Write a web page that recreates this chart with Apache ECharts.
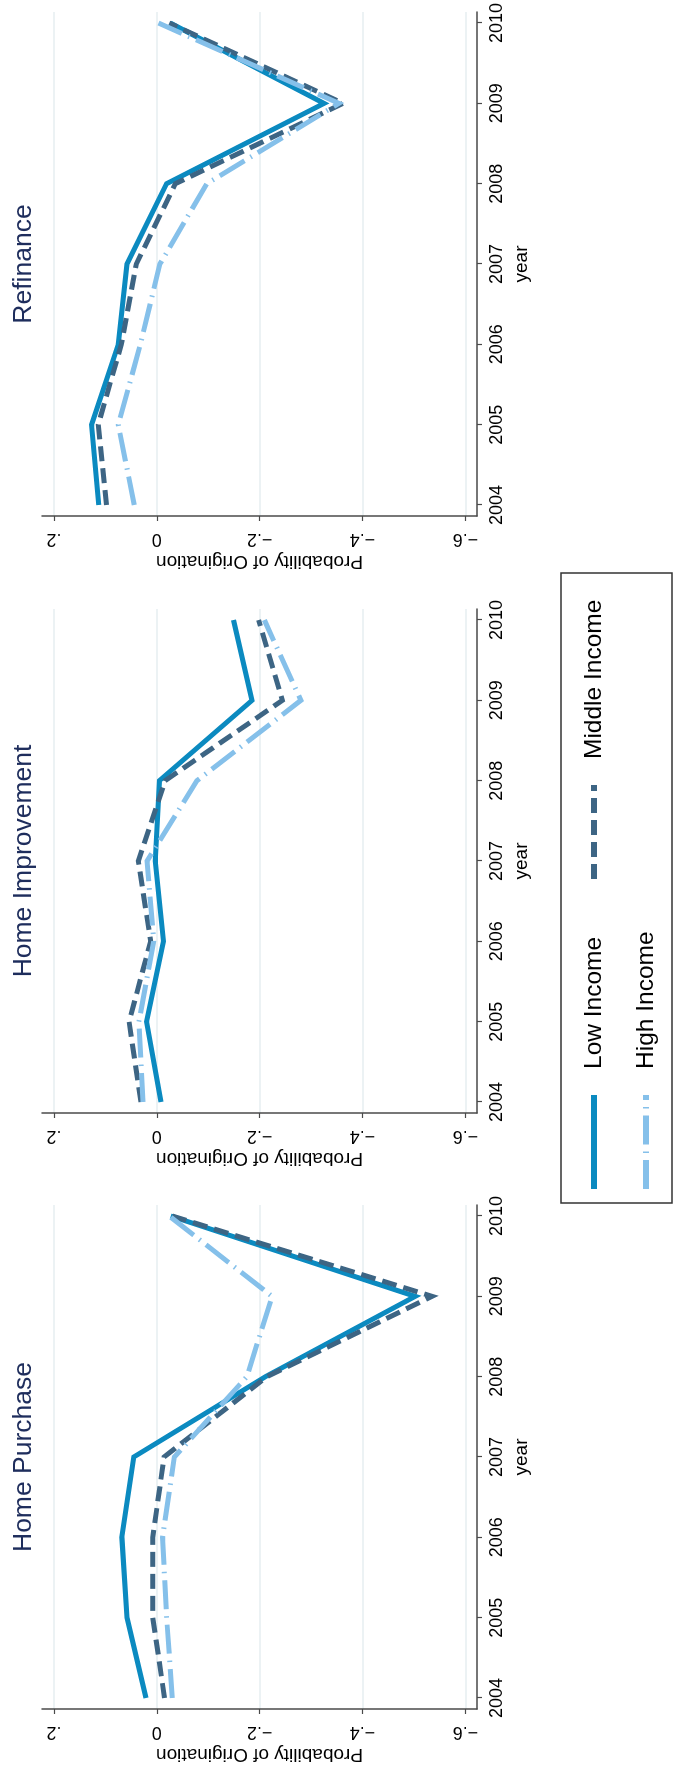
<!DOCTYPE html>
<html>
<head>
<meta charset="utf-8">
<title>Probability of Origination by income</title>
<script src="https://cdn.jsdelivr.net/npm/echarts@6/dist/echarts.min.js"></script>
<style>
  html, body { margin: 0; padding: 0; background: #fff; }
  body { width: 674px; height: 1771px; overflow: hidden; position: relative; }
  /* the source figure is a landscape graph turned a quarter turn counter-clockwise */
  #chart {
    position: absolute; left: 0; top: 1771px;
    width: 1771px; height: 674px;
    transform-origin: 0 0; transform: rotate(-90deg);
  }
</style>
</head>
<body>
<div id="chart"></div>
<script>
// ---- data ----
const years = [2004, 2005, 2006, 2007, 2008, 2009, 2010]
const probTicks = [-0.6, -0.4, -0.2, 0, 0.2]
const panelTitles = ['Home Purchase', 'Home Improvement', 'Refinance']
const incomeNames = ['Low Income', 'Middle Income', 'High Income']

const purchaseLow = [0.021, 0.058, 0.068, 0.045, -0.211, -0.502, -0.027]
const purchaseMiddle = [-0.015, 0.008, 0.008, -0.014, -0.214, -0.535, -0.030]
const purchaseHigh = [-0.030, -0.019, -0.011, -0.034, -0.175, -0.224, -0.024]

const improvementLow = [-0.008, 0.020, -0.013, 0.003, -0.005, -0.185, -0.149]
const improvementMiddle = [0.031, 0.054, 0.012, 0.036, -0.016, -0.244, -0.198]
const improvementHigh = [0.027, 0.035, 0.006, 0.019, -0.078, -0.280, -0.209]

const refinanceLow = [0.113, 0.127, 0.075, 0.058, -0.019, -0.325, -0.026]
const refinanceMiddle = [0.098, 0.114, 0.069, 0.040, -0.036, -0.362, -0.024]
const refinanceHigh = [0.044, 0.075, 0.032, -0.006, -0.097, -0.354, -0.003]

const panels = [
  [purchaseLow, purchaseMiddle, purchaseHigh],
  [improvementLow, improvementMiddle, improvementHigh],
  [refinanceLow, refinanceMiddle, refinanceHigh],
]

// ---- styling ----
const FONT = "'Liberation Sans', Arial, Helvetica, sans-serif"
const incomeColors = ['#0b8ac0', '#3d6584', '#85c0ea']
const incomeDash = ['solid', [15, 7], [29, 7, 1.5, 7]]
const panelLeft = [62, 658, 1255]
const panelWidth = 504
const plotTop = 42
const plotHeight = 435

function probLabel(v) {
  if (Math.abs(v) < 1e-9) return '0'
  const s = Math.abs(v).toFixed(1).replace(/^0/, '')
  return (v < 0 ? '\u2212' : '') + s
}

const grids = []
const xAxes = []
const yAxes = []
const titles = []
const series = []

panels.forEach(function (panel, i) {
  grids.push({ left: panelLeft[i], top: plotTop, width: panelWidth, height: plotHeight })

  xAxes.push({
    type: 'value', gridIndex: i,
    min: 2003.863, max: 2010.137,
    name: 'year', nameLocation: 'middle', nameGap: 35,
    nameTextStyle: { fontFamily: FONT, fontSize: 19, color: '#000' },
    // keep the year axis on the plot edge, not on y = 0
    axisLine: { show: true, onZero: false, lineStyle: { color: '#4a4a4a', width: 1.5 } },
    axisTick: { show: true, length: 5, customValues: years, lineStyle: { color: '#4a4a4a', width: 1.2 } },
    axisLabel: { customValues: years, margin: 11, fontFamily: FONT, fontSize: 18, color: '#000',
      formatter: function (v) { return String(Math.round(v)) } },
    splitLine: { show: false },
  })

  yAxes.push({
    type: 'value', gridIndex: i,
    min: -0.6224, max: 0.2233,
    name: 'Probability of Origination', nameLocation: 'middle', nameGap: 36,
    nameTextStyle: { fontFamily: FONT, fontSize: 19, color: '#000' },
    axisLine: { show: true, onZero: false, lineStyle: { color: '#4a4a4a', width: 1.5 } },
    axisTick: { show: true, length: 5, customValues: probTicks, lineStyle: { color: '#4a4a4a', width: 1.2 } },
    axisLabel: { customValues: probTicks, rotate: 90, margin: 13.5, fontFamily: FONT, fontSize: 18, color: '#000',
      formatter: probLabel },
    splitLine: { show: true, lineStyle: { color: '#e6eef1', width: 1.6 } },
  })

  titles.push({
    text: panelTitles[i],
    left: panelLeft[i] + panelWidth / 2, top: 10.5, textAlign: 'center', padding: 0,
    textStyle: { fontFamily: FONT, fontSize: 26.5, fontWeight: 'normal', color: '#1e2d5c' },
  })

  panel.forEach(function (values, j) {
    series.push({
      type: 'line', name: incomeNames[j],
      xAxisIndex: i, yAxisIndex: i,
      data: years.map(function (y, k) { return [y, values[k]] }),
      symbol: 'none', silent: true, z: 2 + j,
      lineStyle: { color: incomeColors[j], width: 5, type: incomeDash[j], cap: 'butt', join: 'miter' },
      itemStyle: { color: incomeColors[j] },
    })
  })
})

// one legend per entry so the keys sit in the same two columns as the source
const legendPos = [[579, 581.5], [889, 581.5], [579, 633.5]]
const legends = incomeNames.map(function (name, j) {
  return {
    data: [name], left: legendPos[j][0], top: legendPos[j][1], padding: 0,
    itemWidth: 94, itemHeight: 25, selectedMode: false,
    lineStyle: { width: 6 },
    itemStyle: { opacity: 0 },   // line key only, no marker dot
    textStyle: { fontFamily: FONT, fontSize: 24.5, color: '#000', padding: [0, 0, 0, 21] },
  }
})

const chart = echarts.init(document.getElementById('chart'))
chart.setOption({
  animation: false,
  backgroundColor: '#fff',
  title: titles,
  grid: grids,
  xAxis: xAxes,
  yAxis: yAxes,
  legend: legends,
  graphic: [{
    type: 'rect', silent: true,
    shape: { x: 568, y: 561, width: 630, height: 111 },
    style: { fill: 'none', stroke: '#333', lineWidth: 1.5 },
  }],
  series: series,
})
</script>
</body>
</html>
